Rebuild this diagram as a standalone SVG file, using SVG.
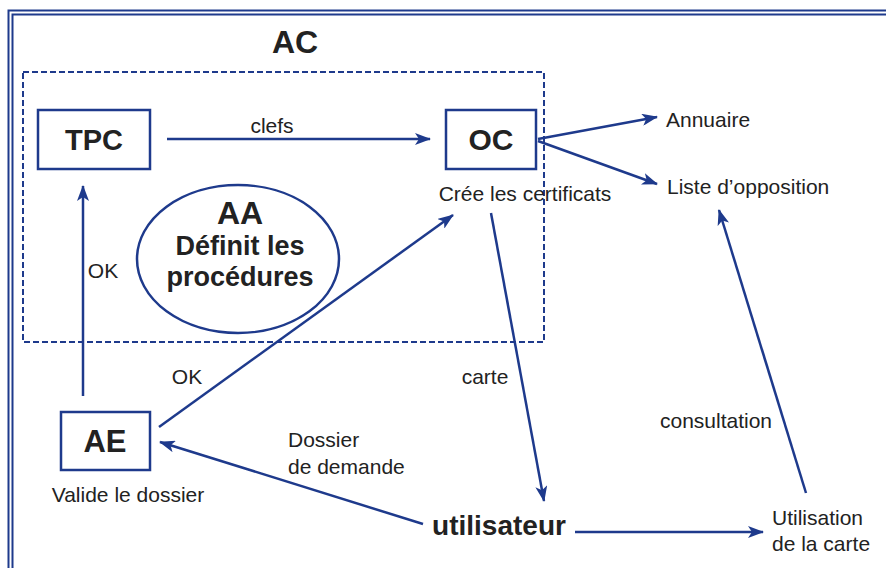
<svg xmlns="http://www.w3.org/2000/svg" width="886" height="568" viewBox="0 0 886 568">
<defs>
<marker id="ah" viewBox="0 0 16 12" refX="15" refY="6" markerWidth="16" markerHeight="12" markerUnits="userSpaceOnUse" orient="auto">
<path d="M0,0 L16,6 L0,12 L4,6 Z" fill="#1e3a8c"/>
</marker>
</defs>
<style>
.b{fill:none;stroke:#1e3a8c;stroke-width:2.5}
.c{fill:none;stroke:#1e3a8c;stroke-width:2.5;marker-end:url(#ah)}
.t{font-family:"Liberation Sans",Arial,sans-serif;fill:#222;font-size:21px}
.h{font-family:"Liberation Sans",Arial,sans-serif;fill:#222;font-weight:bold}
</style>
<rect width="886" height="568" fill="#fff"/>
<g id="frame">
<path d="M886,10.5 H8.5 V568" fill="none" stroke="#1e3a8c" stroke-width="2"/>
<path d="M886,14.5 H12.5 V568" fill="none" stroke="#1e3a8c" stroke-width="2"/>
</g>
<g id="AC">
<rect x="23" y="72" width="521" height="270" fill="none" stroke="#1e3a8c" stroke-width="2" stroke-dasharray="6,3"/>
<text class="h" x="295" y="53" font-size="32" text-anchor="middle">AC</text>
</g>
<g id="TPC">
<rect class="b" x="38" y="110" width="112" height="59"/>
<text class="h" x="94" y="150" font-size="29" text-anchor="middle">TPC</text>
</g>
<g id="OC">
<rect class="b" x="446" y="110" width="90" height="59"/>
<text class="h" x="491" y="150" font-size="30" text-anchor="middle">OC</text>
<text class="t" x="525" y="201" text-anchor="middle">Crée les certificats</text>
</g>
<g id="AA">
<ellipse class="b" cx="238" cy="259" rx="101" ry="74"/>
<text class="h" x="240" y="224" font-size="32" text-anchor="middle">AA</text>
<text class="h" x="240" y="255" font-size="27" text-anchor="middle">Définit les</text>
<text class="h" x="240" y="286" font-size="27" text-anchor="middle">procédures</text>
</g>
<g id="AE">
<rect class="b" x="61" y="412" width="89" height="58"/>
<text class="h" x="105" y="452" font-size="31" text-anchor="middle">AE</text>
<text class="t" x="128" y="502" text-anchor="middle">Valide le dossier</text>
</g>
<g id="Annuaire"><text class="t" x="666" y="127">Annuaire</text></g>
<g id="Liste"><text class="t" x="667" y="194">Liste d’opposition</text></g>
<g id="utilisateur"><text class="h" x="499" y="535" font-size="28" text-anchor="middle">utilisateur</text></g>
<g id="Utilisation">
<text class="t" x="772" y="525">Utilisation</text>
<text class="t" x="772" y="551">de la carte</text>
</g>
<g id="connectors">
<line class="c" x1="167" y1="139" x2="430" y2="139"/>
<text class="t" x="272" y="133" text-anchor="middle">clefs</text>
<line class="c" x1="83" y1="396" x2="83" y2="186"/>
<text class="t" x="103" y="278" text-anchor="middle">OK</text>
<line class="c" x1="159" y1="427" x2="453" y2="215"/>
<text class="t" x="187" y="384" text-anchor="middle">OK</text>
<line class="c" x1="491" y1="213" x2="544" y2="501"/>
<text class="t" x="485" y="384" text-anchor="middle">carte</text>
<line class="c" x1="423" y1="524" x2="160" y2="442"/>
<text class="t" x="288" y="447">Dossier</text>
<text class="t" x="288" y="474">de demande</text>
<line class="c" x1="575" y1="532" x2="763" y2="532"/>
<line class="c" x1="806" y1="493" x2="719" y2="210"/>
<text class="t" x="716" y="428" text-anchor="middle">consultation</text>
<line class="c" x1="538" y1="139" x2="657" y2="117"/>
<line class="c" x1="538" y1="141" x2="657" y2="184"/>
</g>
</svg>
